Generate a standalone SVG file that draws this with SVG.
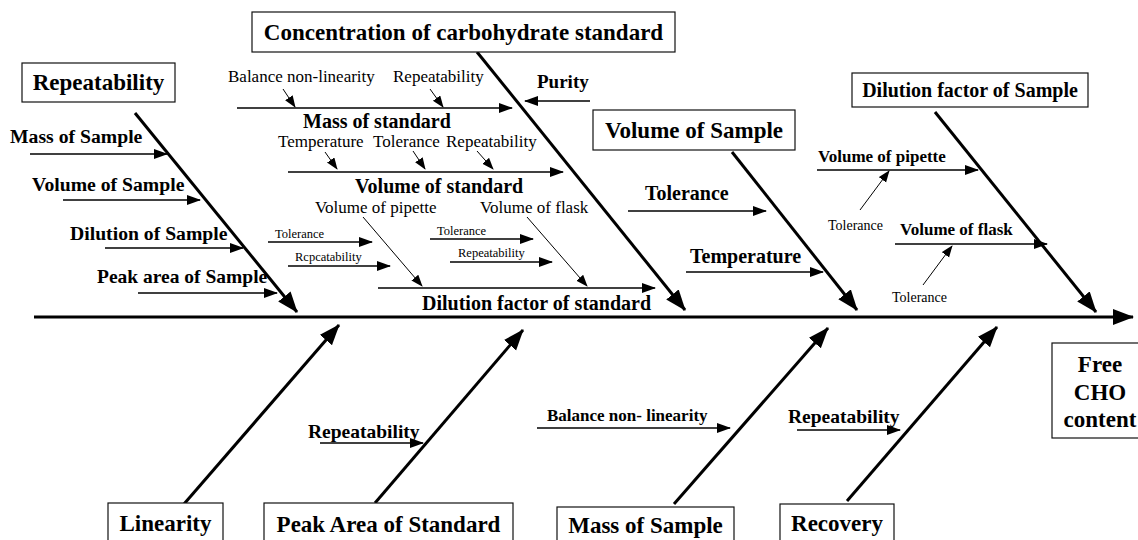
<svg xmlns="http://www.w3.org/2000/svg" width="1138" height="540" viewBox="0 0 1138 540">
<style>
text{font-family:"Liberation Serif","Times New Roman",serif;fill:#000}
.b{font-weight:bold}
.box{fill:#fff;stroke:#111;stroke-width:1.2}
.main{stroke:#000;stroke-width:3;fill:none}
.sub{stroke:#000;stroke-width:1.5;fill:none}
.thin{stroke:#000;stroke-width:1;fill:none}
.bl{font-size:23px;font-weight:bold;text-anchor:middle}
.s20{font-size:20px;font-weight:bold}
.r17{font-size:17px}
.r12{font-size:12.5px}
</style>
<defs>
<marker id="mBig" markerUnits="userSpaceOnUse" markerWidth="22" markerHeight="18" refX="20" refY="8" orient="auto"><path d="M0,0 L21,8 L0,16 z" fill="#000"/></marker>
<marker id="mMed" markerUnits="userSpaceOnUse" markerWidth="14" markerHeight="12" refX="13" refY="5" orient="auto"><path d="M0,0 L14,5 L0,10 z" fill="#000"/></marker>
<marker id="mSm" markerUnits="userSpaceOnUse" markerWidth="12" markerHeight="10" refX="11" refY="4.5" orient="auto"><path d="M0,0 L12,4.5 L0,9 z" fill="#000"/></marker>
</defs>
<rect width="1138" height="540" fill="#fff"/>

<g id="connectors">
<line class="main" x1="34" y1="317" x2="1133" y2="317" marker-end="url(#mBig)"/>
<line class="main" x1="135" y1="113" x2="297" y2="312" marker-end="url(#mBig)"/>
<line class="main" x1="477" y1="52" x2="685" y2="310" marker-end="url(#mBig)"/>
<line class="main" x1="732" y1="152" x2="857" y2="310" marker-end="url(#mBig)"/>
<line class="main" x1="935" y1="112" x2="1096" y2="312" marker-end="url(#mBig)"/>
<line class="main" x1="184" y1="504" x2="339" y2="325" marker-end="url(#mBig)"/>
<line class="main" x1="375" y1="503" x2="523" y2="330" marker-end="url(#mBig)"/>
<line class="main" x1="674" y1="504" x2="828" y2="328" marker-end="url(#mBig)"/>
<line class="main" x1="847" y1="501" x2="997" y2="327" marker-end="url(#mBig)"/>

<line class="sub" x1="30" y1="154" x2="167" y2="154" marker-end="url(#mMed)"/>
<line class="sub" x1="63" y1="200" x2="200" y2="200" marker-end="url(#mMed)"/>
<line class="sub" x1="105" y1="248" x2="243" y2="248" marker-end="url(#mMed)"/>
<line class="sub" x1="138" y1="293" x2="277" y2="293" marker-end="url(#mMed)"/>

<line class="sub" x1="590" y1="101" x2="525" y2="101" marker-end="url(#mMed)"/>
<line class="sub" x1="237" y1="108" x2="512" y2="108" marker-end="url(#mMed)"/>
<line class="sub" x1="288" y1="172" x2="563" y2="172" marker-end="url(#mMed)"/>
<line class="sub" x1="378" y1="288" x2="655" y2="288" marker-end="url(#mMed)"/>
<line class="sub" x1="268" y1="242" x2="372" y2="242" marker-end="url(#mMed)"/>
<line class="sub" x1="288" y1="266" x2="390" y2="266" marker-end="url(#mMed)"/>
<line class="sub" x1="430" y1="239" x2="533" y2="239" marker-end="url(#mMed)"/>
<line class="sub" x1="450" y1="262" x2="552" y2="262" marker-end="url(#mMed)"/>

<line class="sub" x1="628" y1="211" x2="766" y2="211" marker-end="url(#mMed)"/>
<line class="sub" x1="686" y1="272" x2="823" y2="272" marker-end="url(#mMed)"/>
<line class="sub" x1="817" y1="170" x2="978" y2="170" marker-end="url(#mMed)"/>
<line class="sub" x1="895" y1="244" x2="1047" y2="244" marker-end="url(#mMed)"/>

<line class="sub" x1="320" y1="443" x2="423" y2="443" marker-end="url(#mMed)"/>
<line class="sub" x1="537" y1="428" x2="730" y2="428" marker-end="url(#mMed)"/>
<line class="sub" x1="797" y1="430" x2="900" y2="430" marker-end="url(#mMed)"/>

<line class="thin" x1="283" y1="89" x2="295" y2="107" marker-end="url(#mSm)"/>
<line class="thin" x1="430" y1="89" x2="443" y2="107" marker-end="url(#mSm)"/>
<line class="thin" x1="325" y1="152" x2="337" y2="169" marker-end="url(#mSm)"/>
<line class="thin" x1="413" y1="151" x2="425" y2="169" marker-end="url(#mSm)"/>
<line class="thin" x1="477" y1="151" x2="493" y2="169" marker-end="url(#mSm)"/>
<line class="thin" x1="363" y1="217" x2="422" y2="286" marker-end="url(#mSm)"/>
<line class="thin" x1="527" y1="217" x2="587" y2="286" marker-end="url(#mSm)"/>
<line class="thin" x1="860" y1="210" x2="889" y2="171" marker-end="url(#mSm)"/>
<line class="thin" x1="923" y1="285" x2="952" y2="246" marker-end="url(#mSm)"/>
</g>

<g id="repeatability-top">
<rect class="box" x="22" y="63" width="153" height="39"/>
<text class="bl" x="98.5" y="90">Repeatability</text>
<text class="b" x="10" y="143" font-size="19.7">Mass of Sample</text>
<text class="b" x="32" y="191" font-size="19.7">Volume of Sample</text>
<text class="b" x="70" y="240" font-size="19.7">Dilution of Sample</text>
<text class="b" x="97" y="283" font-size="19.5">Peak area of Sample</text>
</g>

<g id="concentration">
<rect class="box" x="252" y="12" width="423" height="40"/>
<text class="bl" x="463.5" y="39.5">Concentration of carbohydrate standard</text>
<text class="r17" x="228" y="82">Balance non-linearity</text>
<text class="r17" x="393" y="82">Repeatability</text>
<text class="b" x="537" y="88" font-size="19">Purity</text>
<text class="s20" x="303" y="128">Mass of standard</text>
<text class="r17" x="278" y="147">Temperature</text>
<text class="r17" x="373" y="147">Tolerance</text>
<text class="r17" x="446" y="147">Repeatability</text>
<text class="s20" x="355" y="193">Volume of standard</text>
<text class="r17" x="315" y="213">Volume of pipette</text>
<text class="r17" x="480" y="213">Volume of flask</text>
<text class="r12" x="275" y="238">Tolerance</text>
<text class="r12" x="295" y="261">Rcpcatability</text>
<text class="r12" x="437" y="235">Tolerance</text>
<text class="r12" x="458" y="257">Repeatability</text>
<text class="s20" x="422" y="310">Dilution factor of standard</text>
</g>

<g id="volume-of-sample">
<rect class="box" x="593" y="110" width="202" height="40"/>
<text class="bl" x="694" y="138">Volume of Sample</text>
<text class="s20" x="645" y="200">Tolerance</text>
<text class="s20" x="690" y="263">Temperature</text>
</g>

<g id="dilution-factor-of-sample">
<rect class="box" x="852" y="73" width="236" height="34"/>
<text class="b" x="970" y="97" font-size="20" text-anchor="middle">Dilution factor of Sample</text>
<text class="b" x="818" y="162" font-size="17">Volume of pipette</text>
<text x="828" y="230" font-size="14">Tolerance</text>
<text class="b" x="900" y="235" font-size="17">Volume of flask</text>
<text x="892" y="302" font-size="14">Tolerance</text>
</g>

<g id="linearity">
<rect class="box" x="108" y="503" width="115" height="45"/>
<text class="bl" x="165.5" y="531" font-size="22">Linearity</text>
</g>

<g id="peak-area-of-standard">
<rect class="box" x="264" y="503" width="249" height="45"/>
<text class="bl" x="388.5" y="532">Peak Area of Standard</text>
<text class="b" x="308" y="438" font-size="19.5">Repeatability</text>
</g>

<g id="mass-of-sample">
<rect class="box" x="557" y="507" width="177" height="45"/>
<text class="bl" x="645.5" y="533">Mass of Sample</text>
<text class="b" x="547" y="421" font-size="17">Balance non- linearity</text>
</g>

<g id="recovery">
<rect class="box" x="780" y="504" width="114" height="45"/>
<text class="bl" x="837" y="531">Recovery</text>
<text class="b" x="788" y="423" font-size="19.5">Repeatability</text>
</g>

<g id="free-cho-content">
<rect class="box" x="1052" y="343" width="98" height="95"/>
<text class="bl" x="1100" y="372" font-size="22">Free</text>
<text class="bl" x="1100" y="400" font-size="22">CHO</text>
<text class="bl" x="1100" y="427" font-size="22">content</text>
</g>
</svg>
